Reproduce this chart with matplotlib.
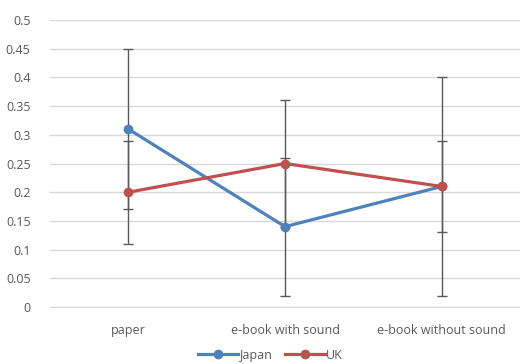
import numpy as np
import matplotlib; matplotlib.use("Agg")
import matplotlib.pyplot as plt
from matplotlib.ticker import FuncFormatter

categories = ["paper", "e-book with sound", "e-book without sound"]
japan = [0.31, 0.14, 0.21]
japan_err = [0.14, 0.12, 0.19]
uk = [0.20, 0.25, 0.21]
uk_err = [0.09, 0.11, 0.08]
yticks = [0, 0.05, 0.1, 0.15, 0.2, 0.25, 0.3, 0.35, 0.4, 0.45, 0.5]

plt.rcParams.update({"font.family": ["Open Sans", "DejaVu Sans"], "font.size": 9})
fig = plt.figure(figsize=(5.2, 3.64), dpi=100)
ax = fig.add_axes([0.0962, 0.1566, 0.9038, 0.7884])

x = np.arange(len(categories))
for vals, err, col, name in [(japan, japan_err, "#4f81bd", "Japan"), (uk, uk_err, "#c0504d", "UK")]:
    ax.errorbar(x, vals, yerr=err, fmt="none", ecolor="#595959", elinewidth=1.0,
                capsize=3.5, capthick=1.0, zorder=2)
    ax.plot(x, vals, "-o", color=col, lw=2.3, ms=6, label=name, zorder=3)

ax.set_xlim(-0.5, 2.5)
ax.set_ylim(0, 0.5)
ax.set_yticks(yticks)
ax.yaxis.set_major_formatter(FuncFormatter(lambda v, p: f"{v:g}"))
ax.set_xticks(x)
ax.set_xticklabels(categories)
ax.grid(axis="y", color="#d9d9d9", lw=1.0, zorder=0)
ax.set_axisbelow(True)
for s in ("top", "right", "left"):
    ax.spines[s].set_visible(False)
ax.spines["bottom"].set_color("#d9d9d9")
ax.tick_params(axis="both", length=0, colors="#595959", labelsize=9)
ax.tick_params(axis="x", pad=12)
ax.tick_params(axis="y", pad=14)

leg = fig.legend(loc="lower center", bbox_to_anchor=(0.52, -0.025), ncol=2, frameon=False,
                 handlelength=3.2, columnspacing=1.0, handletextpad=0.1, fontsize=9)
for t in leg.get_texts():
    t.set_color("#595959")

fig.savefig("out.png", dpi=100)
